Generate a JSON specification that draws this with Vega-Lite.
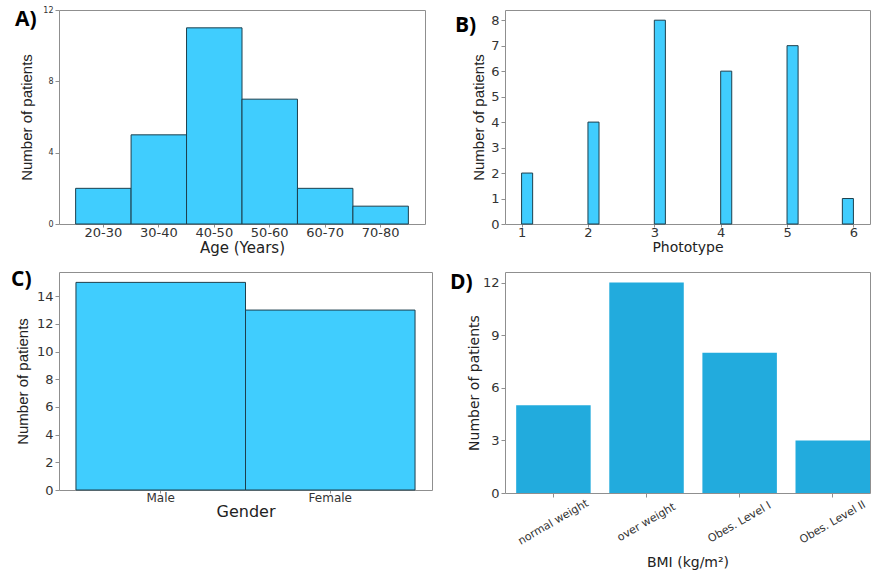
{
  "$schema": "https://vega.github.io/schema/vega-lite/v6.json",
  "background": "white",
  "padding": {"left": 10, "top": 5, "right": 0, "bottom": 0},
  "columns": 2,
  "align": "all",
  "bounds": "flush",
  "spacing": {"column": 73, "row": 41},
  "datasets": {
    "age": [
      {"age_group": "20-30", "patients": 2},
      {"age_group": "30-40", "patients": 5},
      {"age_group": "40-50", "patients": 11},
      {"age_group": "50-60", "patients": 7},
      {"age_group": "60-70", "patients": 2},
      {"age_group": "70-80", "patients": 1}
    ],
    "phototype": [
      {"bin_start": 1.0, "bin_end": 1.1667, "patients": 2},
      {"bin_start": 2.0, "bin_end": 2.1667, "patients": 4},
      {"bin_start": 3.0, "bin_end": 3.1667, "patients": 8},
      {"bin_start": 4.0, "bin_end": 4.1667, "patients": 6},
      {"bin_start": 5.0, "bin_end": 5.1667, "patients": 7},
      {"bin_start": 5.8333, "bin_end": 6.0, "patients": 1}
    ],
    "gender": [
      {"gender": "Male", "patients": 15},
      {"gender": "Female", "patients": 13}
    ],
    "bmi": [
      {"bmi_class": "normal weight", "patients": 5},
      {"bmi_class": "over weight", "patients": 12},
      {"bmi_class": "Obes. Level I", "patients": 8},
      {"bmi_class": "Obes. Level II", "patients": 3}
    ]
  },
  "concat": [
    {
      "title": {"text": "A)", "dx": -44, "offset": -24},
      "width": 366,
      "height": 214,
      "data": {"name": "age"},
      "mark": {"type": "bar", "fill": "#40CDFE", "stroke": "#1d3f4d", "strokeWidth": 1},
      "encoding": {
        "x": {
          "field": "age_group", "type": "nominal", "sort": null,
          "scale": {"paddingInner": 0, "paddingOuter": 0.3},
          "axis": {"title": "Age (Years)", "labelAngle": 0, "tickSize": 3, "labelPadding": -1, "labelFontSize": 13, "titleFontSize": 15, "titlePadding": 1}
        },
        "y": {
          "field": "patients", "type": "quantitative",
          "scale": {"domain": [0, 12], "nice": false},
          "axis": {"title": "Number of patients", "values": [0, 4, 8, 12], "labelFontSize": 8, "titleFont": "Liberation Sans", "titleFontSize": 15, "titlePadding": 8}
        }
      }
    },
    {
      "title": {"text": "B)", "dx": -50, "offset": -26},
      "width": 365,
      "height": 214,
      "data": {"name": "phototype"},
      "mark": {"type": "rect", "fill": "#40CDFE", "stroke": "#1d3f4d", "strokeWidth": 1},
      "encoding": {
        "x": {
          "field": "bin_start", "type": "quantitative",
          "scale": {"domain": [0.75, 6.25], "nice": false, "zero": false},
          "axis": {"title": "Phototype", "values": [1, 2, 3, 4, 5, 6], "tickSize": 3, "labelPadding": -1, "labelFontSize": 13, "titleFontSize": 14, "titlePadding": 1}
        },
        "x2": {"field": "bin_end"},
        "y": {
          "field": "patients", "type": "quantitative",
          "scale": {"domain": [0, 8.4], "nice": false},
          "axis": {"title": "Number of patients", "values": [0, 1, 2, 3, 4, 5, 6, 7, 8], "labelFontSize": 13, "titleFont": "Liberation Sans", "titleFontSize": 15, "titlePadding": 4}
        },
        "y2": {"datum": 0}
      }
    },
    {
      "title": {"text": "C)", "dx": -48, "offset": -18},
      "width": 373,
      "height": 218,
      "data": {"name": "gender"},
      "mark": {"type": "bar", "fill": "#40CDFE", "stroke": "#1d3f4d", "strokeWidth": 1},
      "encoding": {
        "x": {
          "field": "gender", "type": "nominal", "sort": null,
          "scale": {"paddingInner": 0, "paddingOuter": 0.1},
          "axis": {"title": "Gender", "labelAngle": 0, "tickSize": 3, "labelPadding": -1, "labelFontSize": 12, "titleFontSize": 16, "titlePadding": 0}
        },
        "y": {
          "field": "patients", "type": "quantitative",
          "scale": {"domain": [0, 15.75], "nice": false},
          "axis": {"title": "Number of patients", "values": [0, 2, 4, 6, 8, 10, 12, 14], "labelFontSize": 13, "titleFont": "Liberation Sans", "titleFontSize": 15, "titlePadding": 6}
        }
      }
    },
    {
      "title": {"text": "D)", "dx": -55, "offset": -21},
      "width": 365,
      "height": 221,
      "data": {"name": "bmi"},
      "mark": {"type": "bar", "fill": "#22ABDD"},
      "encoding": {
        "x": {
          "field": "bmi_class", "type": "nominal", "sort": null,
          "scale": {"paddingInner": 0.2, "paddingOuter": 0.06, "align": 1},
          "axis": {"title": "BMI (kg/m²)", "labelAngle": -30, "labelAlign": "center", "labelBaseline": "middle", "labelPadding": 25, "labelFontSize": 11, "titleFontSize": 14, "titlePadding": 9}
        },
        "y": {
          "field": "patients", "type": "quantitative",
          "scale": {"domain": [0, 12.6], "nice": false},
          "axis": {"title": "Number of patients", "values": [0, 3, 6, 9, 12], "labelFontSize": 13, "titleFontSize": 14, "titlePadding": 1}
        }
      }
    }
  ],
  "config": {
    "font": "DejaVu Sans",
    "view": {"stroke": "#8f8f8f", "strokeWidth": 1},
    "title": {"anchor": "start", "frame": "group", "baseline": "top", "font": "Open Sans", "fontSize": 21, "fontWeight": "bold", "color": "#000000"},
    "axis": {
      "domain": false,
      "grid": false,
      "ticks": true,
      "tickSize": 4,
      "tickColor": "#8f8f8f",
      "labelPadding": 2,
      "labelColor": "#333333",
      "labelFont": "DejaVu Sans",
      "titleFont": "DejaVu Sans",
      "titleFontWeight": "normal",
      "titleColor": "#222222"
    }
  }
}
